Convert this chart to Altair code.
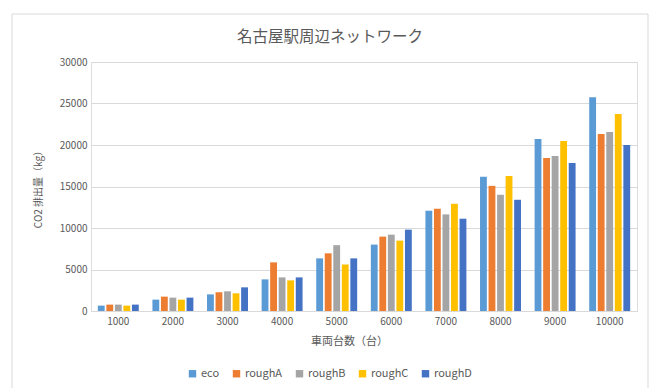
import altair as alt
import pandas as pd

categories = ["1000", "2000", "3000", "4000", "5000", "6000", "7000", "8000", "9000", "10000"]
series = ["eco", "roughA", "roughB", "roughC", "roughD"]
colors = ["#5B9BD5", "#ED7D31", "#A5A5A5", "#FFC000", "#4472C4"]

eco = [650, 1370, 2000, 3810, 6340, 8000, 12080, 16160, 20720, 25760]
roughA = [770, 1730, 2250, 5860, 6950, 8960, 12320, 15080, 18440, 21320]
roughB = [770, 1610, 2370, 4050, 7930, 9200, 11640, 14000, 18680, 21560]
roughC = [650, 1370, 2130, 3690, 5610, 8480, 12920, 16280, 20480, 23720]
roughD = [770, 1610, 2850, 4050, 6340, 9800, 11120, 13400, 17840, 20000]

values = {"eco": eco, "roughA": roughA, "roughB": roughB, "roughC": roughC, "roughD": roughD}
rows = []
for s in series:
    for c, v in zip(categories, values[s]):
        rows.append({"cat": c, "series": s, "value": v})
df = pd.DataFrame(rows)

FONT = "Noto Sans CJK JP"
GRAY = "#595959"

bars = alt.Chart(df).mark_bar().encode(
    x=alt.X("cat:N", sort=categories,
            scale=alt.Scale(paddingInner=0.25, paddingOuter=0.125),
            axis=alt.Axis(title="車両台数（台）", labelAngle=0, labelFontSize=10,
                          labelColor=GRAY, labelFont=FONT, ticks=False,
                          domainColor="#d9d9d9", labelPadding=5,
                          titleFont=FONT, titleFontSize=11, titleFontWeight="normal",
                          titleColor=GRAY, titlePadding=9, titleX=258)),
    xOffset=alt.XOffset("series:N", sort=series, scale=alt.Scale(paddingInner=0.2)),
    y=alt.Y("value:Q", scale=alt.Scale(domain=[0, 30000], nice=False),
            axis=alt.Axis(title="CO2 排出量（kg）", values=list(range(0, 30001, 5000)),
                          format="d", labelFontSize=10, labelColor=GRAY, labelFont=FONT,
                          ticks=False, domain=False, gridColor="#d9d9d9", labelPadding=4,
                          titleFont=FONT, titleFontSize=10, titleFontWeight="normal",
                          titleColor=GRAY, titlePadding=16)),
    color=alt.Color("series:N", sort=series,
                    scale=alt.Scale(domain=series, range=colors),
                    legend=alt.Legend(title=None, orient="none", direction="horizontal",
                                      legendX=96, legendY=306, symbolType="square",
                                      symbolSize=55, symbolStrokeWidth=0,
                                      labelFontSize=11, labelFont=FONT, labelColor=GRAY,
                                      columnPadding=11, labelOffset=3)),
)

frame = alt.Chart(pd.DataFrame({"a": [0]})).mark_rect(
    fill=None, stroke="#d9d9d9", strokeWidth=1
).encode(
    x=alt.value(-79), x2=alt.value(557), y=alt.value(-48), y2=alt.value(340)
)

chart = alt.layer(frame, bars).properties(
    width=546, height=249,
    title=alt.TitleParams("名古屋駅周辺ネットワーク", font=FONT, fontSize=15.5,
                          fontWeight="normal", color=GRAY, anchor="middle",
                          frame="group", dx=-34, offset=-32),
    autosize=alt.AutoSizeParams(type="none"),
    padding={"left": 91, "top": 62, "right": 15, "bottom": 77},
).configure_view(stroke=None).configure(background="white")

chart.save("out.html", embed_options={"renderer": "svg", "actions": False})
